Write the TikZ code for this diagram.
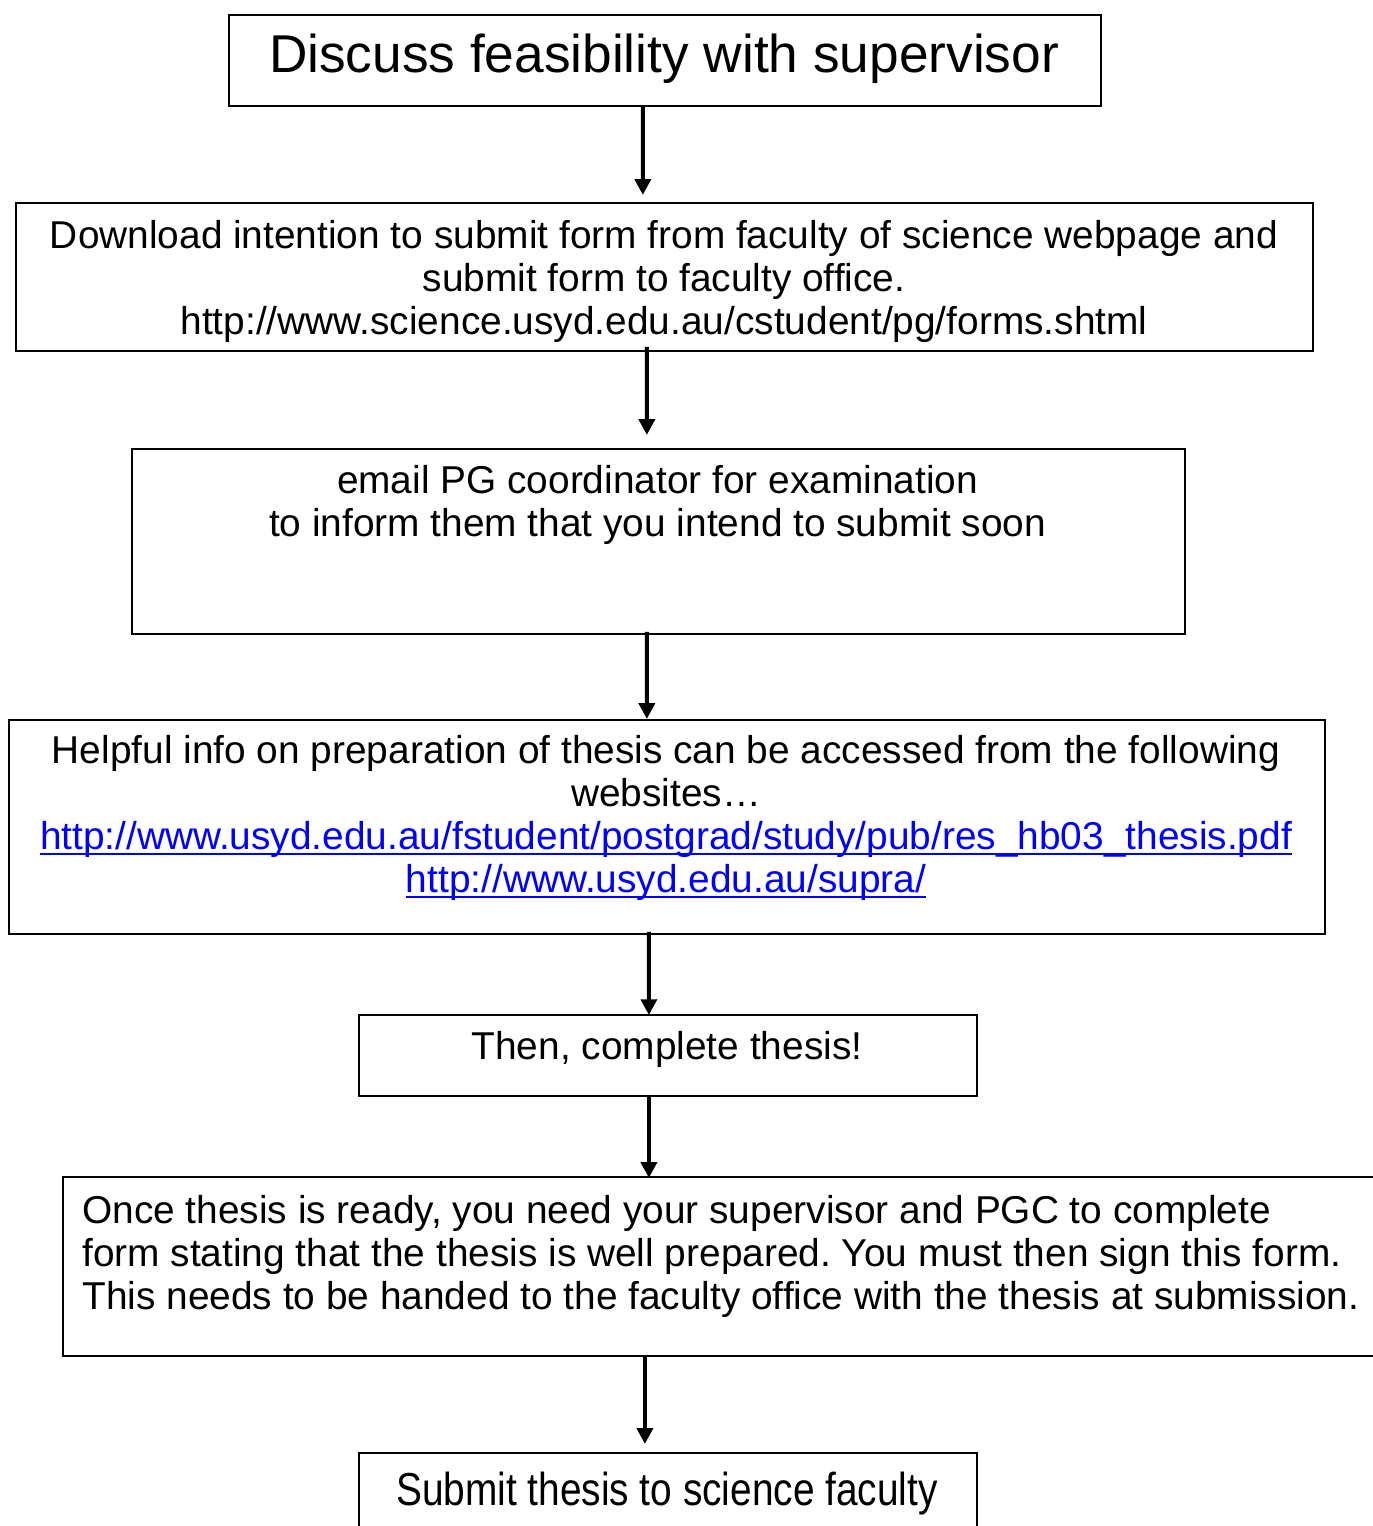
\documentclass[tikz,border=0pt]{standalone}
\usepackage{fontspec}
\setmainfont{Liberation Sans}
\usepackage{graphicx}
\usetikzlibrary{arrows.meta, positioning, calc}
\definecolor{linkblue}{RGB}{0,0,255}
\newcommand{\ulink}[1]{\leavevmode\setbox0\hbox{\color{linkblue}#1}\rlap{\color{linkblue}\rule[-3.4pt]{\wd0}{1.1pt}}\box0}
\newcommand{\bodyfont}{\fontsize{22.1}{24.5}\selectfont}
\newcommand{\titlefont}{\fontsize{30.3}{36}\selectfont}
\newcommand{\plainspace}{\spaceskip\fontdimen2\font\xspaceskip\fontdimen2\font\relax}
\frenchspacing

\begin{document}
\begin{tikzpicture}[x=0.02cm, y=-0.02cm,
  box/.style={draw, line width=1.1pt, rectangle, inner sep=0pt, anchor=north west},
  txt/.style={font=\bodyfont, inner sep=0pt, anchor=base, align=center, text width=26.5cm,
    execute at begin node=\plainspace},
  flow/.style={line width=2.3pt, -{Triangle[width=9pt, length=9pt]}}]
  \useasboundingbox (0,0) rectangle (1373,1526);

  % boxes
  \node[box, minimum width=17.44cm, minimum height=1.82cm] (discuss) at (228,14) {};
  \node[box, minimum width=25.94cm, minimum height=2.96cm] (download) at (15,202) {};
  \node[box, minimum width=21.06cm, minimum height=3.70cm] (email) at (131,448) {};
  \node[box, minimum width=26.32cm, minimum height=4.28cm] (helpful) at (8,719) {};
  \node[box, minimum width=12.36cm, minimum height=1.62cm] (then) at (358,1014) {};
  \node[box, minimum width=26.60cm, minimum height=3.58cm] (once) at (62,1176) {};
  \node[box, minimum width=12.36cm, minimum height=2.00cm] (submit) at (358,1452) {};

  % texts
  \node[txt, font=\titlefont] (discuss-t) at (664,72) {Discuss feasibility with supervisor};
  \node[txt] (download-t) at (664,248) {Download intention to submit form from faculty of science webpage and\\
    submit form to faculty office.\\
    http://www.science.usyd.edu.au/cstudent/pg/forms.shtml};
  \node[txt] (email-t) at (657.5,493) {email PG coordinator for examination\\
    to inform them that you intend to submit soon};
  \node[txt] (helpful-t) at (666,763) {Helpful info on preparation of thesis can be accessed from the following\\
    websites\ldots\\
    \ulink{http://www.usyd.edu.au/fstudent/postgrad/study/pub/res\_hb03\_thesis.pdf}\\
    \ulink{http://www.usyd.edu.au/supra/}};
  \node[txt] (then-t) at (667,1059) {Then, complete thesis!};
  \node[txt, anchor=base west, align=left] (once-t) at (82,1223) {Once thesis is ready, you need your supervisor and PGC to complete\\
    form stating that the thesis is well prepared. You must then sign this form.\\
    This needs to be handed to the faculty office with the thesis at submission.};
  \node[txt] (submit-t) at (667,1505) {\scalebox{1.0}[1.19]{Submit thesis to science faculty}};

  % arrows
  \draw[flow, shorten >=4pt] ([xshift=-0.44cm]discuss.south) -- ([xshift=-0.43cm]download.north);
  \draw[flow, shorten <=-2.8pt, shorten >=7.4pt] ([xshift=-0.35cm]download.south) -- ([xshift=-0.23cm]email.north);
  \draw[flow, shorten <=-1.7pt] ([xshift=-0.23cm]email.south) -- ([xshift=-0.40cm]helpful.north);
  \draw[flow, shorten <=-1.7pt, shorten >=-0.6pt] ([xshift=-0.36cm]helpful.south) -- ([xshift=-0.38cm]then.north);
  \draw[flow, shorten >=-1.1pt] ([xshift=-0.38cm]then.south) -- ([xshift=-0.38cm]then.south |- once.north);
  \draw[flow, shorten >=4.6pt] ([xshift=-0.46cm]submit.north |- once.south) -- ([xshift=-0.46cm]submit.north);
\end{tikzpicture}
\end{document}
